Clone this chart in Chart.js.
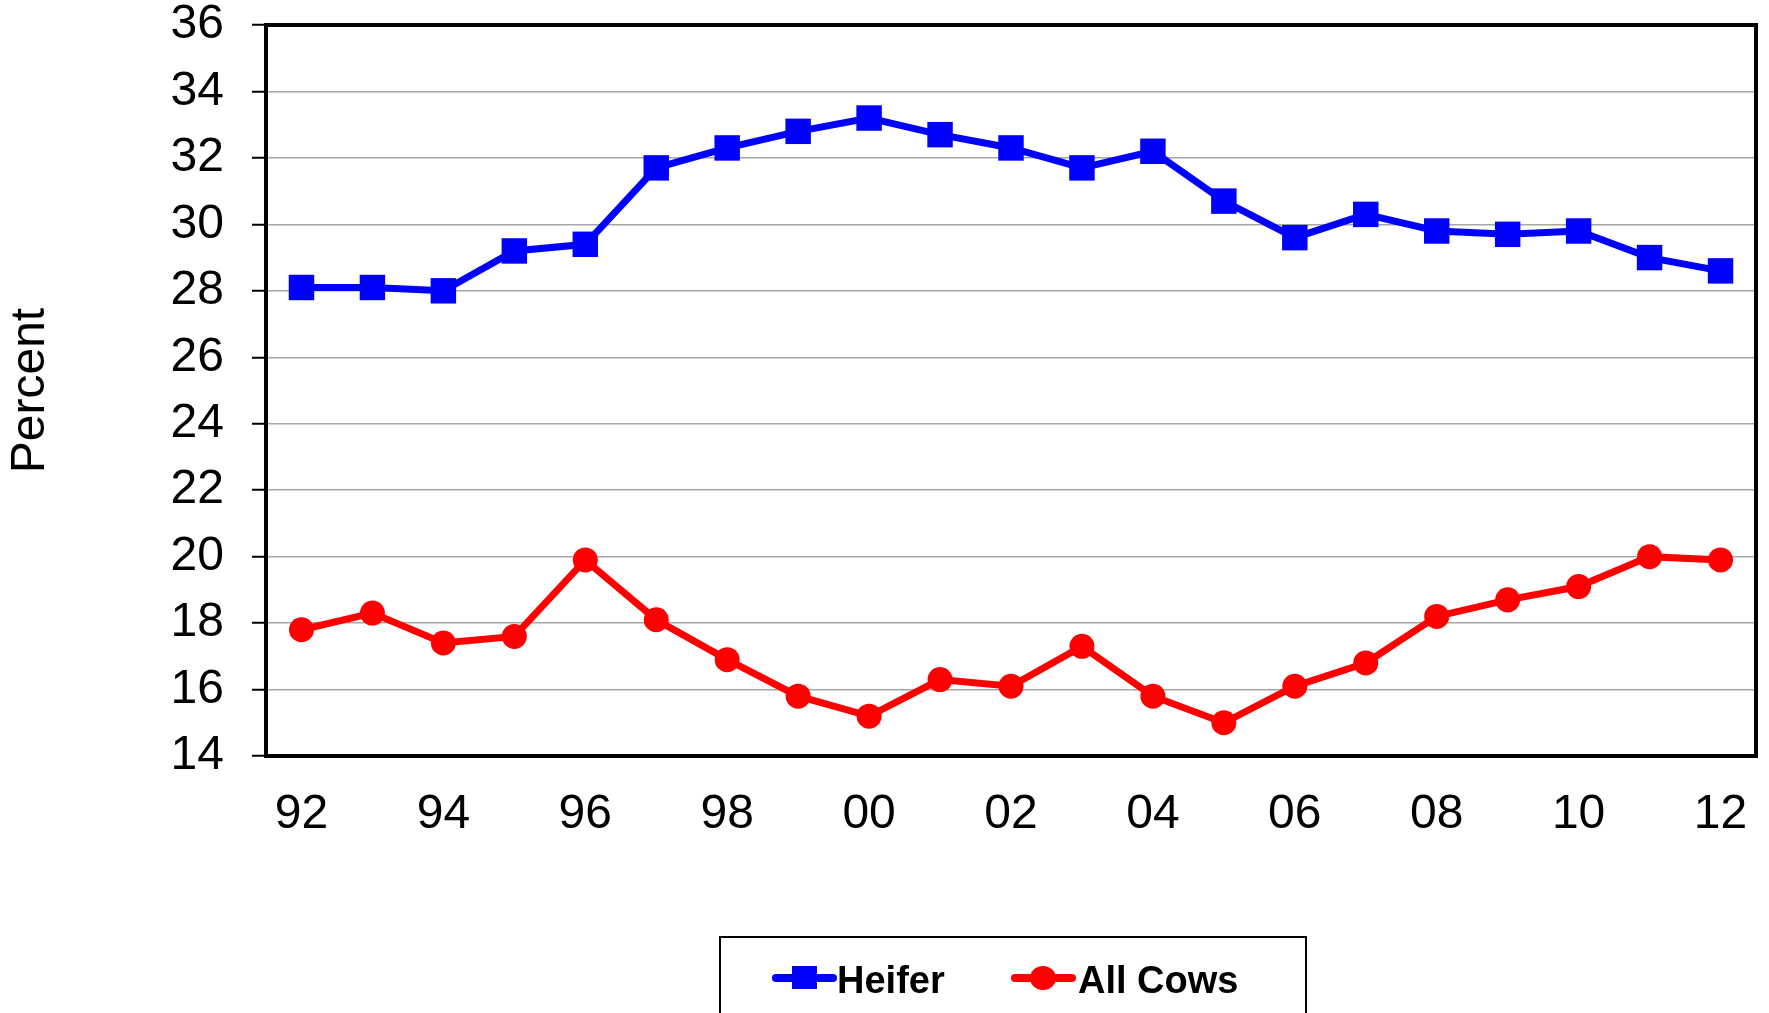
<!DOCTYPE html>
<html>
<head>
<meta charset="utf-8">
<script src="https://cdn.jsdelivr.net/npm/chart.js@4/dist/chart.umd.min.js"></script>
<style>
  html, body { margin: 0; padding: 0; background: #fff; }
  #wrap { width: 1769px; height: 1013px; }
</style>
</head>
<body>
<div id="wrap"><canvas id="chart" width="1769" height="1013"></canvas></div>
<script>
// --- dados do gráfico ---
const years = ['92', '93', '94', '95', '96', '97', '98', '99', '00', '01', '02',
               '03', '04', '05', '06', '07', '08', '09', '10', '11', '12'];
const heifer = [28.1, 28.1, 28.0, 29.2, 29.4, 31.7, 32.3, 32.8, 33.2, 32.7, 32.3,
                31.7, 32.2, 30.7, 29.6, 30.3, 29.8, 29.7, 29.8, 29.0, 28.6];
const allCows = [17.8, 18.3, 17.4, 17.6, 19.9, 18.1, 16.9, 15.8, 15.2, 16.3, 16.1,
                 17.3, 15.8, 15.0, 16.1, 16.8, 18.2, 18.7, 19.1, 20.0, 19.9];
const seriesNames = ['Heifer', 'All Cows'];
const yMin = 14, yMax = 36, yStep = 2;

const FONT = "'Liberation Sans', Arial, Helvetica, sans-serif";

document.addEventListener('DOMContentLoaded', () => {
    // moldura preta em volta da área do gráfico
    const framePlugin = {
        id: 'frame',
        beforeDatasetsDraw(chart) {
            const { ctx, chartArea: a } = chart;
            ctx.save();
            ctx.strokeStyle = '#000';
            ctx.lineWidth = 4;
            ctx.strokeRect(a.left, a.top, a.right - a.left, a.bottom - a.top);
            ctx.restore();
        }
    };

    // legenda com caixa, linha + marcador (como no original)
    const boxLegend = {
        id: 'boxLegend',
        afterDraw(chart) {
            const ctx = chart.ctx;
            ctx.save();
            ctx.strokeStyle = '#000';
            ctx.lineWidth = 2;
            ctx.strokeRect(720, 937, 586, 110);

            const items = [
                { x: 776, textX: 837 },
                { x: 1015, textX: 1078 }
            ];
            chart.data.datasets.forEach((ds, i) => {
                const it = items[i];
                const cy = 978;
                ctx.strokeStyle = ds.borderColor;
                ctx.fillStyle = ds.backgroundColor;
                ctx.lineWidth = 8;
                ctx.lineCap = 'round';
                ctx.beginPath();
                ctx.moveTo(it.x, cy);
                ctx.lineTo(it.x + 57, cy);
                ctx.stroke();
                if (ds.pointStyle === 'rect') {
                    ctx.fillRect(it.x + 16, cy - 12, 25, 23);
                } else {
                    ctx.beginPath();
                    ctx.ellipse(it.x + 28, cy, 13, 12, 0, 0, Math.PI * 2);
                    ctx.fill();
                }
                ctx.fillStyle = '#000';
                ctx.font = 'bold 38px ' + FONT;
                ctx.textBaseline = 'alphabetic';
                ctx.textAlign = 'left';
                ctx.fillText(ds.label, it.textX, 993);
            });
            ctx.restore();
        }
    };

    const ctx = document.getElementById('chart').getContext('2d');
    new Chart(ctx, {
        type: 'line',
        data: {
            labels: years,
            datasets: [
                {
                    label: seriesNames[0],
                    data: heifer,
                    borderColor: '#0000FF',
                    backgroundColor: '#0000FF',
                    borderWidth: 7,
                    pointStyle: 'rect',
                    pointRadius: 18,
                    pointBorderWidth: 0,
                    tension: 0
                },
                {
                    label: seriesNames[1],
                    data: allCows,
                    borderColor: '#FF0000',
                    backgroundColor: '#FF0000',
                    borderWidth: 7,
                    pointStyle: 'circle',
                    pointRadius: 12.5,
                    pointBorderWidth: 0,
                    tension: 0
                }
            ]
        },
        options: {
            responsive: false,
            animation: false,
            layout: { autoPadding: false, padding: { top: 25, right: 13, left: 0, bottom: 0 } },
            plugins: {
                legend: { display: false },
                tooltip: { enabled: false }
            },
            scales: {
                x: {
                    offset: true,
                    grid: { display: false, drawTicks: false },
                    border: { display: true, color: '#000', width: 4 },
                    ticks: {
                        color: '#000',
                        font: { family: FONT, size: 48 },
                        padding: 30,
                        autoSkip: false,
                        maxRotation: 0,
                        callback: function (value, index) {
                            return index % 2 === 0 ? this.getLabelForValue(value) : '';
                        }
                    },
                    afterFit: (scale) => {
                        scale.height = 257;
                        scale.paddingLeft = 0;
                        scale.paddingRight = 0;
                    }
                },
                y: {
                    min: yMin,
                    max: yMax,
                    grid: {
                        color: '#a6a6a6',
                        lineWidth: 1.5,
                        tickColor: '#000',
                        tickLength: 14,
                        tickWidth: 2
                    },
                    border: { display: true, color: '#000', width: 4 },
                    ticks: {
                        stepSize: yStep,
                        color: '#000',
                        font: { family: FONT, size: 48 },
                        padding: 28
                    },
                    title: {
                        display: true,
                        text: 'Percent',
                        color: '#000',
                        font: { family: FONT, size: 48 },
                        padding: { top: 2, bottom: 0 }
                    },
                    afterFit: (scale) => {
                        scale.width = 266;
                        scale.paddingTop = 0;
                        scale.paddingBottom = 0;
                    }
                }
            }
        },
        plugins: [framePlugin, boxLegend]
    });
});
</script>
</body>
</html>
